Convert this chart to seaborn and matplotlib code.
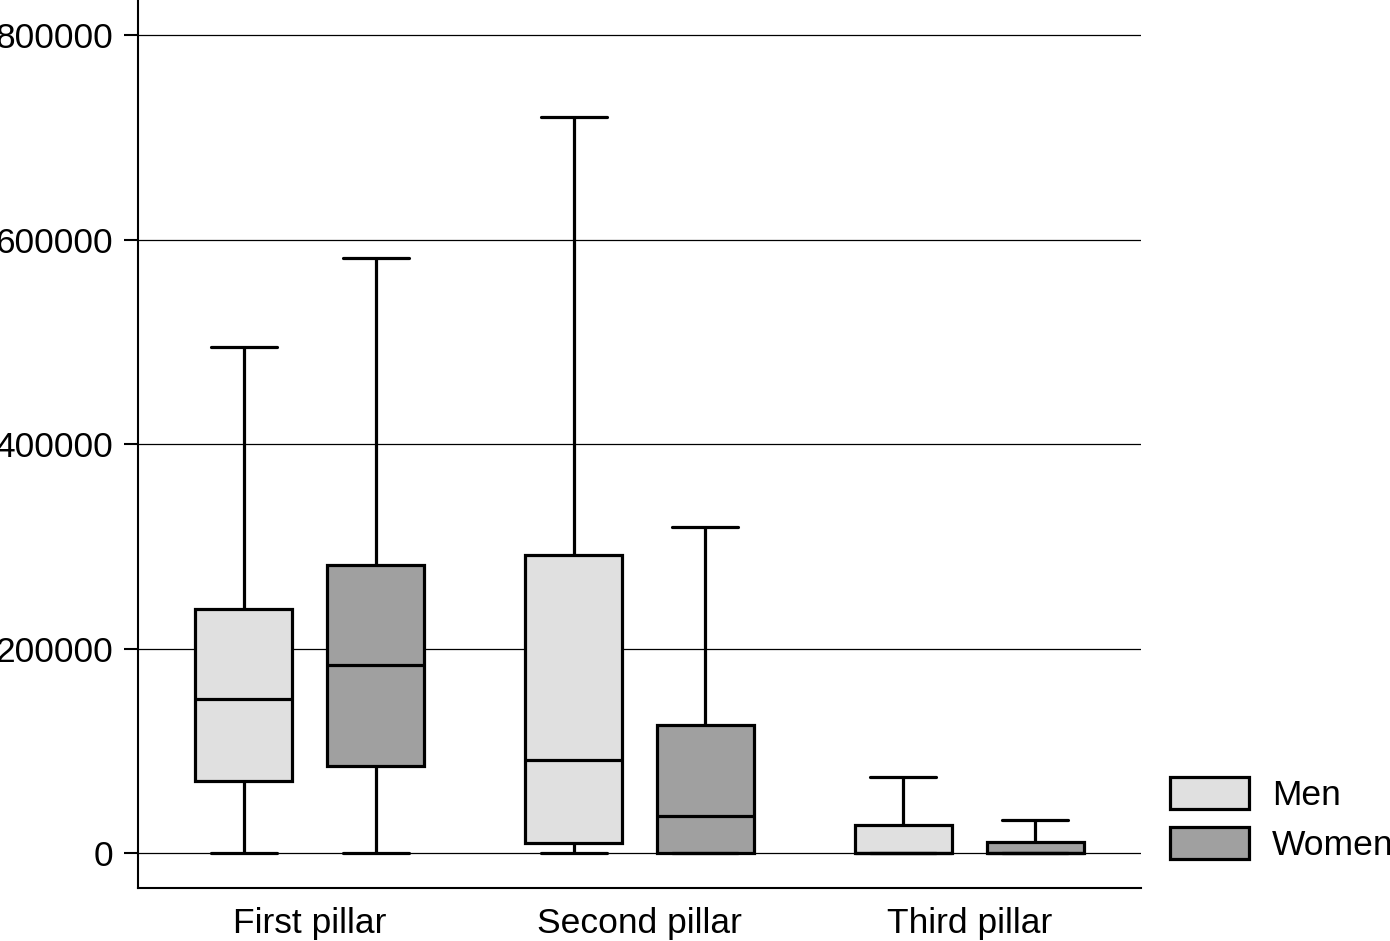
import numpy as np
import pandas as pd
import matplotlib
matplotlib.use("Agg")
import matplotlib.pyplot as plt
import seaborn as sns
from matplotlib.patches import Patch

pillars = ["First pillar", "Second pillar", "Third pillar"]
sexes = ["Men", "Women"]
# five-number summaries: low whisker, Q1, median, Q3, high whisker
men_low = [0, 0, 0]
men_q1 = [70000, 9800, 0]
men_med = [151000, 91000, 0]
men_q3 = [239000, 291600, 27400]
men_high = [495000, 720200, 74400]
women_low = [0, 0, 0]
women_q1 = [85000, 0, 0]
women_med = [184000, 36200, 0]
women_q3 = [281800, 125300, 10800]
women_high = [582200, 319000, 32300]
colors = ["#e0e0e0", "#a0a0a0"]
yticks = [0, 200000, 400000, 600000, 800000]

rows = []
for i, p in enumerate(pillars):
    for v in (men_low[i], men_q1[i], men_med[i], men_q3[i], men_high[i]):
        rows.append((p, "Men", v))
    for v in (women_low[i], women_q1[i], women_med[i], women_q3[i], women_high[i]):
        rows.append((p, "Women", v))
df = pd.DataFrame(rows, columns=["pillar", "sex", "value"])

sns.set_style("white")
plt.rcParams["font.family"] = ["Liberation Sans", "DejaVu Sans"]
plt.rcParams["text.color"] = "black"
plt.rcParams["xtick.color"] = "black"
plt.rcParams["ytick.color"] = "black"
plt.rcParams["xtick.labelcolor"] = "black"
plt.rcParams["ytick.labelcolor"] = "black"

FS = 25.5

fig = plt.figure(figsize=(13.9, 9.41), dpi=100)
ax = fig.add_axes([138/1390, 1 - 888/941, (1141-138)/1390, 888/941])

sns.boxplot(data=df, x="pillar", y="value", hue="sex", order=pillars, hue_order=sexes,
            palette=colors, linecolor="black", linewidth=2.3, width=0.8, gap=0.27,
            whis=(0, 100), capwidths=0.2, legend=False, ax=ax)

ax.set_xlim(-0.52, 2.52)
ax.set_ylim(-34250, 834700)
ax.set_yticks(yticks)
ax.set_yticklabels([str(t) for t in yticks])
ax.yaxis.grid(True, color="black", linewidth=0.9)
ax.set_axisbelow(True)
ax.set_xlabel("")
ax.set_ylabel("")
for s in ["top", "right"]:
    ax.spines[s].set_visible(False)
for s in ["left", "bottom"]:
    ax.spines[s].set_color("black")
    ax.spines[s].set_linewidth(1.5)
ax.tick_params(axis="y", length=10, width=1.5, color="black", labelcolor="black",
               labelsize=FS, pad=8, left=True)
ax.tick_params(axis="x", length=0, labelsize=FS, labelcolor="black", pad=14)

handles = [Patch(facecolor=c, edgecolor="black", linewidth=2.3) for c in colors]
fig.legend(handles, sexes, loc="upper left", bbox_to_anchor=(1170/1390, 1 - 777/941),
           frameon=False, fontsize=FS, handlelength=2.23, handleheight=1.02,
           labelspacing=0.42, handletextpad=0.65, borderpad=0, borderaxespad=0)

fig.savefig("out.png", dpi=100)
